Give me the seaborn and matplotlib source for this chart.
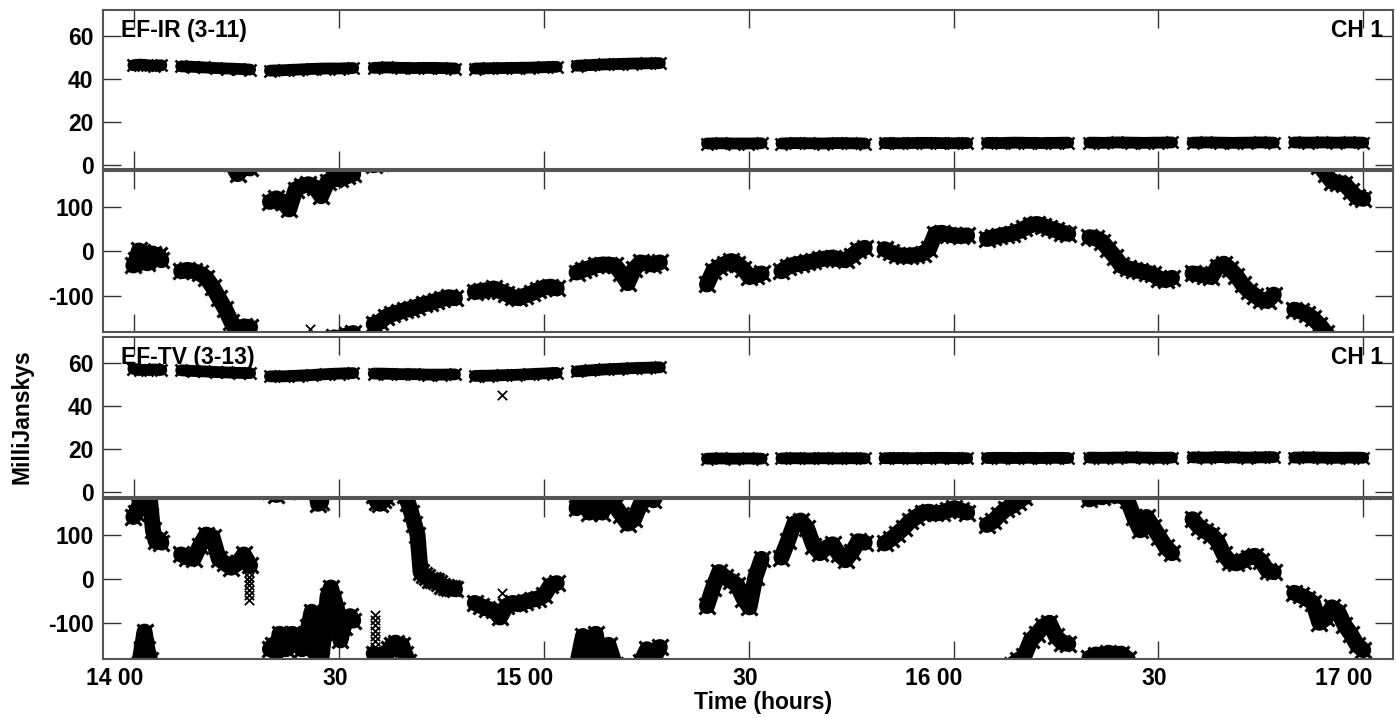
import numpy as np
import pandas as pd
import matplotlib
matplotlib.use("Agg")
import matplotlib.pyplot as plt
import matplotlib.transforms as mtransforms
import seaborn as sns

# time in minutes after 14:00, one entry per scan
scan_start = [-0.1, 6.9, 19.9, 35.1, 49.9, 64.8, 83.9, 94.8, 109.9, 124.9, 139.9, 155.0, 169.9]
scan_end = [4.0, 17.0, 32.1, 47.0, 61.9, 77.0, 91.9, 107.0, 122.0, 136.8, 152.0, 166.9, 180.0]

tick_minutes = [0, 30, 60, 90, 120, 150, 180]
tick_labels = ["14 00", "30", "15 00", "30", "16 00", "30", "17 00"]

# EF-IR (3-11) amplitude, mJy
ir_amp = [
    [46.5, 46.8, 46.5, 46.3, 46.5],
    [46.0, 45.8, 45.5, 45.2, 45.0, 44.8, 44.5],
    [44.0, 44.2, 44.5, 44.8, 45.0, 45.0, 45.2],
    [45.3, 45.5, 45.3, 45.2, 45.3, 45.2, 45.0],
    [45.0, 45.1, 45.2, 45.3, 45.4, 45.6, 45.8],
    [46.3, 46.6, 46.9, 47.1, 47.3, 47.4, 47.5],
    [10.0, 10.1, 10.0, 10.0, 10.1],
    [10.0, 10.2, 10.1, 10.0, 10.2, 10.1, 10.0],
    [10.2, 10.1, 10.2, 10.3, 10.2, 10.1, 10.2],
    [10.3, 10.2, 10.4, 10.3, 10.2, 10.3, 10.4],
    [10.4, 10.3, 10.5, 10.4, 10.3, 10.4, 10.5],
    [10.4, 10.5, 10.4, 10.3, 10.4, 10.5, 10.4],
    [10.5, 10.4, 10.5, 10.4, 10.5, 10.4],
]

# EF-IR (3-11) phase, degrees (as shown, wrapped to +-180)
ir_phase = [
    [-32, -20, 2, -1, -9, -27, -13, -5, -16, -9, -20],
    [-45, -42, -45, -50, -60, -80, -105, -130, -160, 175, -170, -172],
    [112, 120, 112, 95, 140, 148, 152, 145, 125, 158, 165, 163, 170, 175],
    [-165, -160, -148, -142, -138, -133, -130, -125, -120, -117, -112, -108, -104, -106],
    [-92, -90, -88, -84, -90, -96, -104, -106, -100, -95, -88, -82, -80, -84],
    [-48, -42, -38, -32, -30, -30, -32, -50, -72, -40, -25, -28, -30, -25],
    [-75, -45, -35, -28, -22, -28, -40, -58, -55, -50],
    [-45, -35, -30, -28, -25, -22, -18, -16, -14, -18, -20, -10, 2, 8],
    [5, -2, -8, -10, -10, -8, -5, 5, 40, 42, 38, 36, 35, 36],
    [28, 32, 35, 38, 40, 45, 52, 60, 62, 58, 52, 48, 42, 40],
    [32, 30, 22, 5, -12, -32, -38, -42, -45, -48, -52, -62, -65, -60],
    [-50, -52, -55, -58, -35, -28, -40, -55, -75, -90, -100, -110, -112, -98],
    [-132, -136, -142, -152, -166, 176, 158, 155, 153, 137, 122, 119],
]
ir_phase_extra_t = [25.8]
ir_phase_extra_v = [-176]

# EF-TV (3-13) amplitude, mJy
tv_amp = [
    [57.5, 57.0, 57.0, 57.2, 57.0],
    [56.8, 56.5, 56.3, 56.0, 55.8, 55.6, 55.5],
    [54.0, 54.0, 54.3, 54.6, 55.0, 55.3, 55.5],
    [55.3, 55.2, 55.0, 55.0, 54.8, 54.8, 54.9],
    [54.2, 54.3, 54.5, 54.7, 55.0, 55.3, 55.6],
    [56.3, 56.8, 57.2, 57.5, 57.8, 58.0, 58.2],
    [15.7, 15.8, 15.7, 15.8, 15.7],
    [15.8, 15.9, 15.8, 15.9, 15.8, 15.9, 15.8],
    [15.9, 16.0, 15.9, 16.0, 16.1, 16.0, 15.9],
    [16.0, 16.1, 16.0, 16.1, 16.0, 16.1, 16.0],
    [16.2, 16.1, 16.2, 16.3, 16.2, 16.1, 16.2],
    [16.3, 16.2, 16.4, 16.3, 16.2, 16.3, 16.4],
    [16.2, 16.3, 16.2, 16.1, 16.2, 16.1],
]
tv_amp_extra_t = [53.9]
tv_amp_extra_v = [45.1]

# EF-TV (3-13) phase, degrees
tv_phase = [
    [140, 150, 165, -160, -120, -160, 175, 110, 85, 90, 82],
    [55, 48, 45, 75, 100, 95, 45, 35, 25, 35, 55, 30],
    [-160, -150, -170, -125, -140, -160, -150, -125, -130, -150, -160, -150, -110, -75,
     -130, 170, 175, -120, -40, -20, -45, -70, -140, -110, -90, -85, -95],
    [-170, 175, 170, 178, -175, -160, -150, -145, -155, -150, -170, 172, 150, 125,
     100, 15, 8, 3, -2, -4, -6, -10, -16, -18, -20, -22, -24],
    [-55, -62, -68, -72, -88, -62, -55, -58, -52, -48, -45, -38, -15, -10],
    [160, -130, 150, -125, 150, -150, 165, 145, 125, 135, 170, -160, 178, -155],
    [-62, -20, 15, 3, -5, -15, -45, -65, 5, 45],
    [48, 85, 125, 132, 115, 75, 58, 70, 78, 55, 42, 60, 85, 82],
    [80, 90, 102, 115, 130, 140, 150, 152, 148, 150, 155, 160, 155, 150],
    [122, 130, 145, 158, 165, 175, -175, -140, -125, -108, -100, -130, -145, -148],
    [180, -172, -175, -168, -172, -170, 178, 140, 110, 140, 118, 95, 72, 58],
    [135, 118, 108, 100, 85, 55, 38, 35, 40, 48, 52, 40, 18, 15],
    [-32, -38, -45, -55, -100, -90, -65, -75, -105, -125, -150, -162],
]
tv_phase_extra_t = [16.9, 16.9, 16.9, 16.9, 16.9, 16.9, 16.9, 16.9, 16.9,
                    35.3, 35.3, 35.3, 35.3, 35.3, 35.3, 35.3, 35.3, 53.9]
tv_phase_extra_v = [35, 25, 15, 5, -5, -15, -25, -37, -48,
                    -82, -94, -106, -118, -130, -142, -154, -164, -33]


def draw_scans(ax, values, phase, lw, ms, mew):
    rows = []
    for k, vals in enumerate(values):
        t = np.linspace(scan_start[k], scan_end[k], len(vals))
        v = np.asarray(vals, dtype=float)
        shifts = [0]
        if phase:
            v = np.unwrap(v, period=360)
            shifts = [-360, 0, 360]
        for s in shifts:
            for ti, vi in zip(t, v + s):
                rows.append((ti, vi, f"{k}_{s}"))
    df = pd.DataFrame(rows, columns=["t", "v", "seg"])
    sns.lineplot(data=df, x="t", y="v", units="seg", estimator=None, color="black",
                 linewidth=lw, marker="x", markersize=ms, markeredgewidth=mew,
                 markeredgecolor="black", legend=False, ax=ax)


def draw_extra(ax, tt, vv):
    sns.scatterplot(x=tt, y=vv, marker="x", color="black", s=45, linewidth=1.3,
                    legend=False, ax=ax)


sns.set_style("ticks")
plt.rcParams["font.family"] = ["Liberation Sans", "DejaVu Sans"]
plt.rcParams["font.weight"] = "bold"
plt.rcParams["axes.unicode_minus"] = False
plt.rcParams["text.color"] = "black"
plt.rcParams["xtick.labelcolor"] = "black"
plt.rcParams["ytick.labelcolor"] = "black"

W, H = 1396, 718
fig = plt.figure(figsize=(W / 100, H / 100), dpi=100)
left, right = 103.3, 1393.3
# (top, bottom) of each panel in pixels
boxes = [(10, 169), (171, 331.5), (337, 496.5), (498.5, 658.7)]
axes = []
for top, bot in boxes:
    ax = fig.add_axes([left / W, 1 - bot / H, (right - left) / W, (bot - top) / H])
    axes.append(ax)

draw_scans(axes[0], ir_amp, False, 8.5, 9, 1.8)
draw_scans(axes[1], ir_phase, True, 11.5, 12, 2.2)
draw_extra(axes[1], ir_phase_extra_t, ir_phase_extra_v)
draw_scans(axes[2], tv_amp, False, 8.5, 9, 1.8)
draw_extra(axes[2], tv_amp_extra_t, tv_amp_extra_v)
draw_scans(axes[3], tv_phase, True, 11.5, 12, 2.2)
draw_extra(axes[3], tv_phase_extra_t, tv_phase_extra_v)

for i, ax in enumerate(axes):
    ax.set_xlim(-4.5, 184.4)
    if i % 2 == 0:
        ax.set_ylim(-1.9, 72.3)
        ax.set_yticks([0, 20, 40, 60])
    else:
        ax.set_ylim(-181.5, 182)
        ax.set_yticks([-100, 0, 100])
    ax.set_xticks(tick_minutes)
    ax.set_xlabel("")
    ax.set_ylabel("")
    ax.tick_params(direction="in", length=13, width=1, color="#333333",
                   labelcolor="black", top=True, right=True, labelsize=16.5, pad=7)
    ax.tick_params(axis="x", pad=6)
    for sp in ax.spines.values():
        sp.set_color("#555555")
        sp.set_linewidth(1.5)
    if i < 3:
        ax.set_xticklabels([])
    else:
        ax.set_xticklabels(tick_labels)
        shift = mtransforms.ScaledTranslation(0.09, 0, fig.dpi_scale_trans)
        for lab in ax.get_xticklabels():
            lab.set_horizontalalignment("right")
            lab.set_transform(lab.get_transform() + shift)

for ax, name in [(axes[0], "EF-IR (3-11)"), (axes[2], "EF-TV (3-13)")]:
    ax.text(0.0137, 0.945, name, transform=ax.transAxes, ha="left", va="top",
            fontsize=16.5, fontweight="bold", color="black")
    ax.text(0.992, 0.945, "CH 1", transform=ax.transAxes, ha="right", va="top",
            fontsize=16.5, fontweight="bold", color="black")

fig.text(22 / W, 1 - 417 / H, "MilliJanskys", rotation=90, ha="center", va="center",
         fontsize=16.5, fontweight="bold", color="black")
fig.text(763 / W, 1 - 703 / H, "Time (hours)", ha="center", va="center",
         fontsize=16.5, fontweight="bold", color="black")

fig.savefig("out.png", dpi=100)
